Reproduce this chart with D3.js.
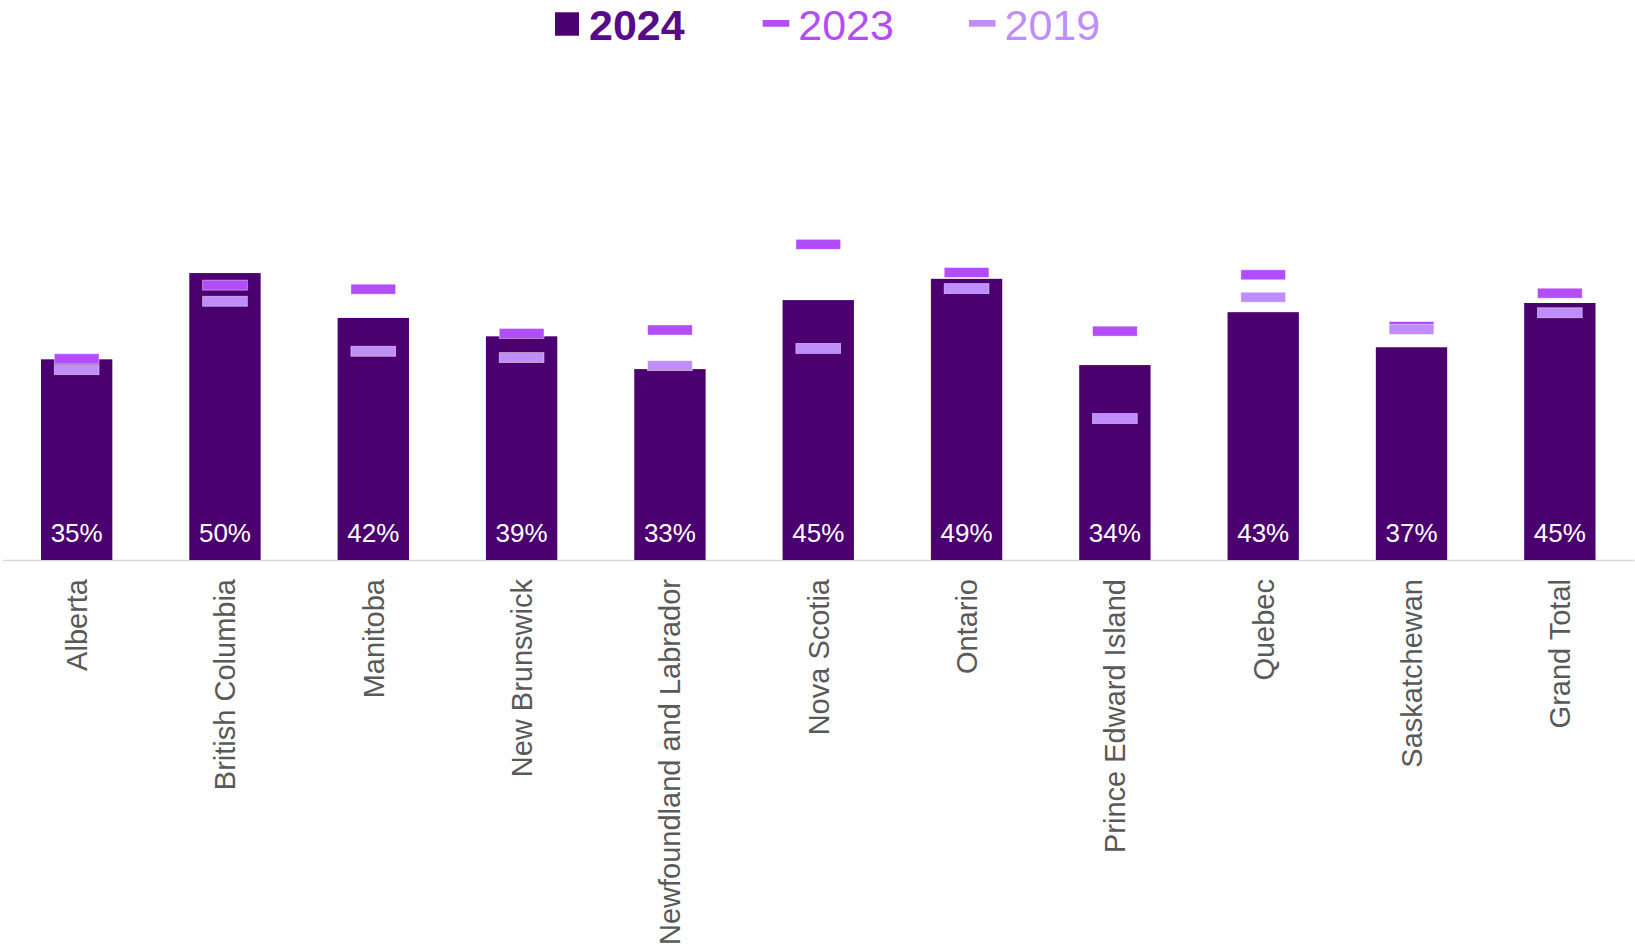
<!DOCTYPE html>
<html>
<head>
<meta charset="utf-8">
<script src="https://cdn.jsdelivr.net/npm/d3@7"></script>
<style>
  body { margin: 0; background: #fff; }
  svg { display: block; font-family: "Liberation Sans", Arial, sans-serif; }
</style>
</head>
<body>
<div id="chart"></div>
<script>
// data
const categories = ["Alberta", "British Columbia", "Manitoba", "New Brunswick", "Newfoundland and Labrador",
  "Nova Scotia", "Ontario", "Prince Edward Island", "Quebec", "Saskatchewan", "Grand Total"];
const values2024 = [34.9, 49.9, 42.1, 38.9, 33.2, 45.2, 48.9, 33.9, 43.1, 37.0, 44.7];
const values2023 = [35.0, 47.8, 47.1, 39.4, 40.0, 54.9, 50.0, 39.8, 49.6, 40.6, 46.4];
const values2019 = [33.1, 45.0, 36.3, 35.2, 33.8, 36.8, 47.2, 24.6, 45.7, 40.1, 43.0];
const seriesNames = ["2024", "2023", "2019"];
const seriesColors = ["#4a006f", "#b34dfb", "#bf8dfc"];

//constants
const width = 1635, height = 947;
const baseY = 560;

const svg = d3.select("#chart")
  .append("svg")
  .attr("width", width)
  .attr("height", height);

const x = d3.scaleBand()
  .domain(categories)
  .range([2.5, 1634])
  .paddingInner(0.519)
  .paddingOuter(0.2595);

const y = d3.scaleLinear()
  .domain([0, 100])
  .range([baseY, baseY - 575]);

const bw = x.bandwidth();
const mw = bw * 0.627; // marker width
const mh = 10;

// axis line + category labels
const xAxis = svg.append("g")
  .attr("transform", "translate(0," + baseY + ")")
  .call(d3.axisBottom(x).tickSize(0).tickSizeOuter(0));
xAxis.select(".domain")
  .attr("stroke", "#d9d9d9")
  .attr("stroke-width", 1.6);
xAxis.selectAll("text")
  .attr("transform", "rotate(-90)")
  .attr("text-anchor", "end")
  .attr("x", -19)
  .attr("y", 0)
  .attr("dy", "0.36em")
  .attr("fill", "#595959")
  .style("font-size", "29px")
  .style("font-family", "'Liberation Sans', Arial, sans-serif");

const rows = categories.map((c, i) => ({cat: c, v24: values2024[i], v23: values2023[i], v19: values2019[i]}));

// bars
svg.append("g").selectAll("rect")
  .data(rows)
  .join("rect")
  .attr("x", d => x(d.cat))
  .attr("y", d => y(d.v24))
  .attr("width", bw)
  .attr("height", d => baseY - y(d.v24))
  .attr("fill", seriesColors[0]);

// value labels
svg.append("g").selectAll("text")
  .data(rows)
  .join("text")
  .attr("x", d => x(d.cat) + bw / 2)
  .attr("y", baseY - 18.3)
  .attr("text-anchor", "middle")
  .attr("fill", "#fff")
  .style("font-size", "26px")
  .text(d => Math.round(d.v24) + "%");

// markers: 2023 first, 2019 on top
[["v23", seriesColors[1]], ["v19", seriesColors[2]]].forEach(([key, col]) => {
  svg.append("g").selectAll("rect")
    .data(rows)
    .join("rect")
    .attr("x", d => x(d.cat) + (bw - mw) / 2)
    .attr("y", d => y(d[key]) - mh / 2)
    .attr("width", mw)
    .attr("height", mh)
    .attr("fill", col)
    .attr("stroke", "#fff")
    .attr("stroke-opacity", 0.55)
    .attr("stroke-width", 0.8);
});

// legend
const legend = svg.append("g").attr("transform", "translate(555,0)");
const gaps = [78, 75];
let lx = 0;
seriesNames.forEach((name, i) => {
  const g = legend.append("g").attr("transform", "translate(" + lx + ",0)");
  let symW;
  if (i === 0) {
    symW = 24;
    g.append("rect").attr("x", 0).attr("y", 12.3).attr("width", 24).attr("height", 23.4).attr("fill", seriesColors[0]);
  } else {
    symW = 26.6;
    g.append("rect").attr("x", 0).attr("y", 20).attr("width", 26.6).attr("height", 6.7).attr("fill", seriesColors[i]);
  }
  const t = g.append("text")
    .attr("x", symW + (i === 0 ? 10 : 9))
    .attr("y", 39.5)
    .attr("fill", i === 0 ? "#580a8a" : seriesColors[i])
    .style("font-size", "43px")
    .style("font-weight", i === 0 ? "bold" : "normal")
    .text(name);
  lx += symW + (i === 0 ? 10 : 9) + t.node().getComputedTextLength() + (gaps[i] || 0);
});
</script>
</body>
</html>
